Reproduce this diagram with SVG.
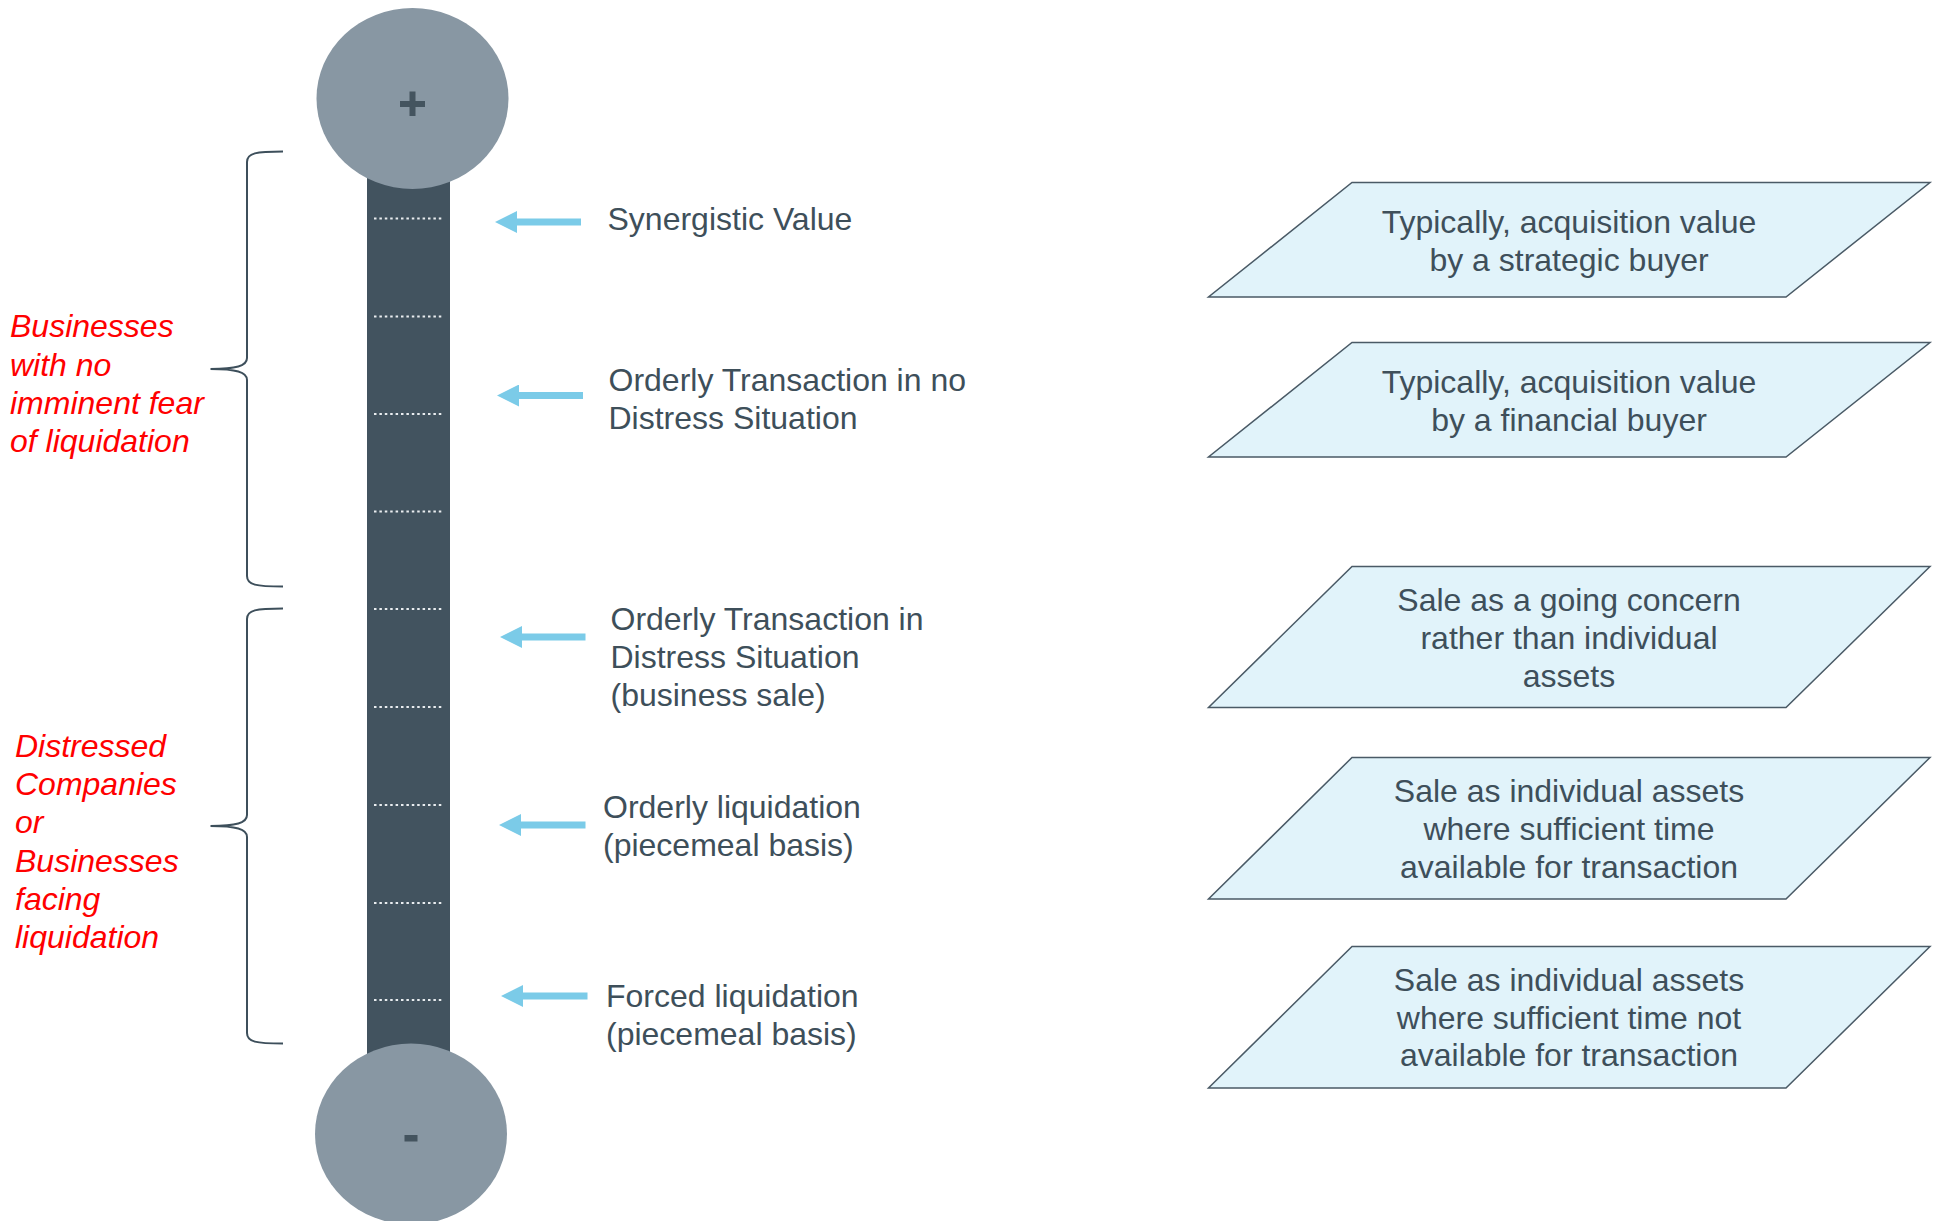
<svg xmlns="http://www.w3.org/2000/svg" width="1937" height="1221" viewBox="0 0 1937 1221">
  <style>
    .bg { fill: #ffffff; }
    .bulb { fill: #8897a3; }
    .stem { fill: #42535f; }
    .sign { fill: #44545f; }
    .tick { stroke: #e9edf0; stroke-width: 2; stroke-dasharray: 2.5 2.9; fill: none; }
    .brace { fill: none; stroke: #3d4f5b; stroke-width: 2; }
    .group { font-family: "Liberation Sans", Arial, sans-serif; font-style: italic; font-size: 32px; fill: #ff0000; }
    .lbl { font-family: "Liberation Sans", Arial, sans-serif; font-size: 32px; fill: #3e4f5a; }
    .note { font-family: "Liberation Sans", Arial, sans-serif; font-size: 32px; fill: #3e4f5a; text-anchor: middle; }
    .para { fill: #e1f3fa; stroke: #4a5a66; stroke-width: 1.5; }
    .ptr { stroke: #7bcbe8; stroke-width: 7; fill: none; marker-end: url(#head); }
  </style>
  <defs>
    <marker id="head" viewBox="0 0 22 22" markerUnits="userSpaceOnUse" markerWidth="22" markerHeight="22" refX="8" refY="11" orient="auto">
      <path d="M0,0 L22,11 L0,22 z" fill="#7bcbe8"/>
    </marker>
  </defs>
  <rect class="bg" x="0" y="0" width="1937" height="1221"/>

  <!-- value scale: stem with tick marks and the two end bulbs -->
  <g id="scale">
    <rect class="stem" x="367" y="160" width="83" height="900"/>
    <g id="ticks">
      <line class="tick" x1="374" y1="218.5" x2="442" y2="218.5"/>
      <line class="tick" x1="374" y1="316.5" x2="442" y2="316.5"/>
      <line class="tick" x1="374" y1="414" x2="442" y2="414"/>
      <line class="tick" x1="374" y1="511.5" x2="442" y2="511.5"/>
      <line class="tick" x1="374" y1="609" x2="442" y2="609"/>
      <line class="tick" x1="374" y1="707" x2="442" y2="707"/>
      <line class="tick" x1="374" y1="805" x2="442" y2="805"/>
      <line class="tick" x1="374" y1="903" x2="442" y2="903"/>
      <line class="tick" x1="374" y1="1000" x2="442" y2="1000"/>
    </g>
  </g>
  <g id="bulb-plus">
    <ellipse class="bulb" cx="412.5" cy="98.5" rx="96" ry="90.5"/>
    <rect class="sign" x="400" y="101" width="25" height="6"/>
    <rect class="sign" x="409.5" y="91.5" width="6" height="24.5"/>
  </g>
  <g id="bulb-minus">
    <ellipse class="bulb" cx="411" cy="1134" rx="96" ry="90.5"/>
    <rect class="sign" x="404.5" y="1135" width="13" height="6.5"/>
  </g>

  <!-- group braces and their captions -->
  <g id="going-concern">
    <path class="brace" d="M283,151.5 C256,151.5 247,153 247,162 L247,358 C247,366 236,369 210.5,369 C236,369 247,372 247,380 L247,576 C247,585 256,586.5 283,586.5"/>
    <text class="group">
      <tspan x="10" y="337">Businesses</tspan>
      <tspan x="10" y="375.5">with no</tspan>
      <tspan x="10" y="414">imminent fear</tspan>
      <tspan x="10" y="452">of liquidation</tspan>
    </text>
  </g>
  <g id="distressed">
    <path class="brace" d="M283,608.5 C256,608.5 247,610 247,619 L247,815 C247,823 236,826 210.5,826 C236,826 247,829 247,837 L247,1033 C247,1042 256,1043.5 283,1043.5"/>
    <text class="group">
      <tspan x="15" y="756.5">Distressed</tspan>
      <tspan x="15" y="795">Companies</tspan>
      <tspan x="15" y="833">or</tspan>
      <tspan x="15" y="871.5">Businesses</tspan>
      <tspan x="15" y="909.5">facing</tspan>
      <tspan x="15" y="948">liquidation</tspan>
    </text>
  </g>

  <!-- pointers onto the scale -->
  <g id="connectors">
    <line class="ptr" x1="581" y1="222" x2="509" y2="222"/>
    <line class="ptr" x1="583" y1="395.5" x2="511" y2="395.5"/>
    <line class="ptr" x1="585.5" y1="637" x2="514" y2="637"/>
    <line class="ptr" x1="585.5" y1="825" x2="513" y2="825"/>
    <line class="ptr" x1="587.5" y1="996" x2="515" y2="996"/>
  </g>

  <!-- value levels -->
  <g id="level-synergistic">
    <text class="lbl" x="607.5" y="229.5">Synergistic Value</text>
  </g>
  <g id="level-no-distress">
    <text class="lbl"><tspan x="608.5" y="391">Orderly Transaction in no</tspan><tspan x="608.5" y="429">Distress Situation</tspan></text>
  </g>
  <g id="level-distress-sale">
    <text class="lbl"><tspan x="610.5" y="629.5">Orderly Transaction in</tspan><tspan x="610.5" y="667.5">Distress Situation</tspan><tspan x="610.5" y="705.5">(business sale)</tspan></text>
  </g>
  <g id="level-orderly-liquidation">
    <text class="lbl"><tspan x="603" y="818">Orderly liquidation</tspan><tspan x="603" y="856">(piecemeal basis)</tspan></text>
  </g>
  <g id="level-forced-liquidation">
    <text class="lbl"><tspan x="606" y="1007">Forced liquidation</tspan><tspan x="606" y="1045">(piecemeal basis)</tspan></text>
  </g>

  <!-- descriptions -->
  <g id="desc-strategic">
    <polygon class="para" points="1352,182.5 1930,182.5 1786,297 1208.5,297"/>
    <text class="note"><tspan x="1569" y="233">Typically, acquisition value</tspan><tspan x="1569" y="271">by a strategic buyer</tspan></text>
  </g>
  <g id="desc-financial">
    <polygon class="para" points="1352,342.5 1930,342.5 1786,457 1208.5,457"/>
    <text class="note"><tspan x="1569" y="393">Typically, acquisition value</tspan><tspan x="1569" y="431">by a financial buyer</tspan></text>
  </g>
  <g id="desc-going-concern">
    <polygon class="para" points="1352,566.5 1930,566.5 1786,707.5 1208.5,707.5"/>
    <text class="note"><tspan x="1569" y="610.5">Sale as a going concern</tspan><tspan x="1569" y="649">rather than individual</tspan><tspan x="1569" y="687">assets</tspan></text>
  </g>
  <g id="desc-orderly">
    <polygon class="para" points="1352,757.5 1930,757.5 1786,899 1208.5,899"/>
    <text class="note"><tspan x="1569" y="801.5">Sale as individual assets</tspan><tspan x="1569" y="839.5">where sufficient time</tspan><tspan x="1569" y="877.5">available for transaction</tspan></text>
  </g>
  <g id="desc-forced">
    <polygon class="para" points="1352,946.5 1930,946.5 1786,1088 1208.5,1088"/>
    <text class="note"><tspan x="1569" y="990.5">Sale as individual assets</tspan><tspan x="1569" y="1028.5">where sufficient time not</tspan><tspan x="1569" y="1066">available for transaction</tspan></text>
  </g>
</svg>
